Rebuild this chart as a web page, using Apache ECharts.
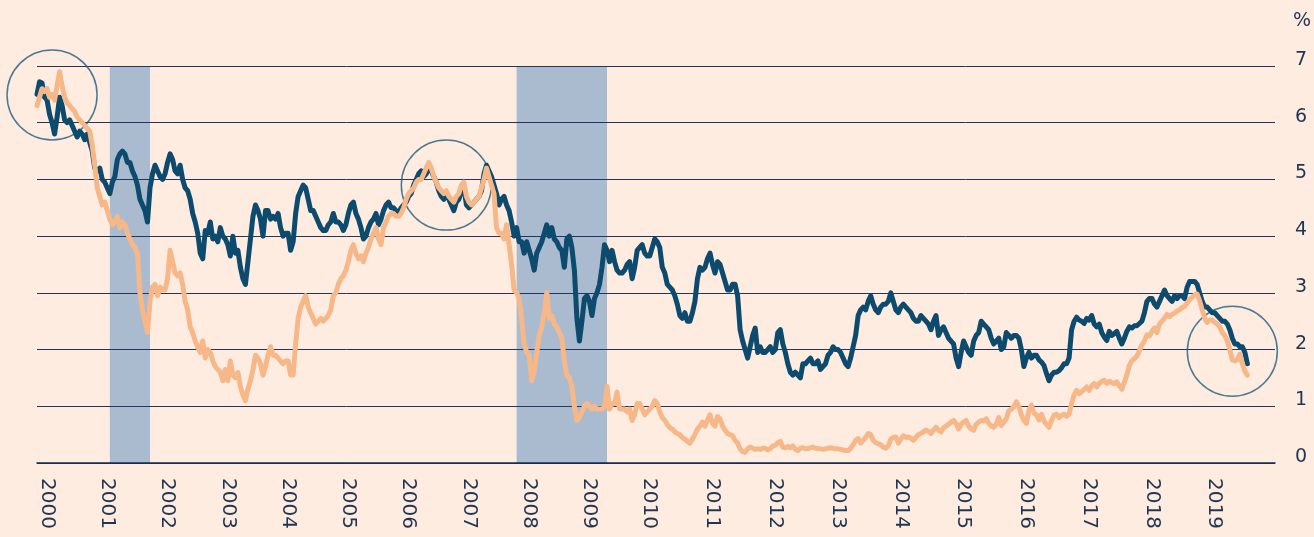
<!DOCTYPE html>
<html>
<head>
<meta charset="utf-8">
<script src="https://cdn.jsdelivr.net/npm/echarts@6.0.0/dist/echarts.min.js"></script>
<style>
html,body{margin:0;padding:0;background:#feece1;overflow:hidden;}
#chart{width:1314px;height:537px;}
</style>
</head>
<body>
<div id="chart"></div>
<script>
// ---- tick labels ----
const yearLabels = ['2000','2001','2002','2003','2004','2005','2006','2007','2008','2009',
  '2010','2011','2012','2013','2014','2015','2016','2017','2018','2019'];
// samples per calendar year along the x axis (2000 .. 2020)
const samplesPerYear = [24,24,24,24,24,24,24,24,24,24,25,25,25,25,25,25,25,25,25,25,25];
const axisSampleCount = 494;

// ---- US 10-year Treasury yield, % ----
const tenYear = [
  6.50,6.72,6.70,6.45,6.40,6.15,6.00,5.80,6.10,6.45,6.30,6.05,6.00,6.05,5.95,5.85,5.75,5.85,5.80,5.70,5.80,5.65,5.50,5.20,
  5.15,5.20,5.00,4.95,4.85,4.75,4.95,5.05,5.35,5.45,5.50,5.45,5.30,5.30,5.15,5.05,4.90,4.65,4.55,4.45,4.25,4.85,5.10,5.25,
  5.15,5.05,5.00,5.10,5.30,5.45,5.35,5.15,5.10,5.25,5.00,4.85,4.80,4.65,4.40,4.25,4.05,3.70,3.60,4.10,4.05,4.25,3.95,4.00,
  3.90,4.15,4.00,3.95,3.85,3.65,4.00,3.70,3.75,3.45,3.25,3.15,3.55,3.95,4.35,4.55,4.45,4.30,4.00,4.45,4.45,4.30,4.35,4.30,
  4.40,4.15,4.00,4.05,4.05,3.75,3.90,4.40,4.70,4.80,4.90,4.85,4.65,4.45,4.45,4.35,4.25,4.15,4.10,4.10,4.20,4.25,4.40,4.25,
  4.25,4.20,4.10,4.20,4.40,4.55,4.60,4.40,4.30,4.15,3.95,4.00,4.15,4.25,4.30,4.40,4.20,4.30,4.45,4.55,4.60,4.50,4.50,4.45,
  4.40,4.50,4.55,4.60,4.70,4.75,4.90,5.00,5.10,5.15,5.05,5.10,5.20,5.15,5.05,4.95,4.80,4.70,4.65,4.75,4.65,4.55,4.45,4.60,
  4.65,4.80,4.85,4.55,4.50,4.55,4.60,4.65,4.70,4.80,5.10,5.25,5.15,5.05,4.90,4.75,4.55,4.65,4.70,4.55,4.45,4.25,4.00,4.15,
  3.90,3.90,3.70,3.90,3.75,3.60,3.40,3.70,3.80,3.90,4.05,4.20,4.00,4.15,3.95,3.90,3.80,3.75,3.45,3.95,4.00,3.80,3.40,2.55,
  2.15,2.50,2.90,2.95,2.85,2.60,2.90,3.00,3.15,3.45,3.85,3.75,3.55,3.75,3.55,3.40,3.35,3.35,3.40,3.50,3.55,3.25,3.45,3.75,
  3.80,3.85,3.70,3.65,3.65,3.80,3.95,3.90,3.80,3.45,3.35,3.15,3.10,3.05,2.95,2.80,2.60,2.55,2.65,2.50,2.50,2.65,2.85,3.25,3.45,
  3.40,3.45,3.60,3.70,3.50,3.35,3.55,3.50,3.35,3.20,3.05,3.05,3.15,3.15,2.95,2.35,2.15,2.00,1.85,2.05,2.25,2.38,1.95,2.05,1.95,
  1.95,2.00,2.05,1.95,2.00,2.30,2.35,2.10,1.95,1.75,1.60,1.55,1.60,1.55,1.50,1.75,1.75,1.80,1.85,1.75,1.75,1.80,1.65,1.70,1.75,
  1.90,1.95,2.05,2.00,2.00,1.95,1.85,1.75,1.70,1.85,2.05,2.25,2.60,2.70,2.75,2.70,2.85,2.95,2.80,2.70,2.65,2.75,2.80,2.80,2.85,
  3.00,2.85,2.70,2.65,2.75,2.80,2.75,2.70,2.65,2.55,2.50,2.50,2.60,2.55,2.50,2.45,2.35,2.50,2.60,2.25,2.35,2.40,2.30,2.20,2.15,
  2.10,1.85,1.70,1.95,2.15,2.05,1.95,1.90,2.15,2.25,2.30,2.50,2.45,2.40,2.35,2.20,2.10,2.15,2.20,2.00,2.05,2.30,2.25,2.20,2.25,
  2.25,2.20,2.00,1.70,1.85,1.95,1.85,1.90,1.90,1.82,1.78,1.72,1.58,1.45,1.55,1.60,1.60,1.63,1.68,1.75,1.75,1.85,2.35,2.50,2.57,
  2.52,2.50,2.46,2.55,2.52,2.60,2.45,2.40,2.45,2.30,2.22,2.16,2.32,2.25,2.28,2.32,2.20,2.10,2.20,2.32,2.40,2.38,2.42,2.42,2.46,
  2.50,2.65,2.85,2.90,2.90,2.80,2.75,2.85,2.95,3.05,2.95,2.90,2.85,2.95,2.90,2.95,2.95,2.90,3.10,3.20,3.20,3.20,3.15,3.00,2.85,
  2.75,2.75,2.70,2.65,2.65,2.60,2.55,2.50,2.50,2.45,2.35,2.20,2.10,2.10,2.05,2.05,1.95,1.75
];

// ---- US 2-year Treasury yield, % ----
const twoYear = [
  6.30,6.45,6.60,6.55,6.60,6.45,6.50,6.40,6.65,6.90,6.65,6.45,6.35,6.30,6.25,6.20,6.10,6.05,6.00,5.95,5.90,5.85,5.60,5.25,
  4.85,4.70,4.55,4.60,4.45,4.30,4.20,4.25,4.35,4.15,4.25,4.20,4.05,3.95,3.85,3.80,3.70,3.00,2.70,2.50,2.30,2.85,3.10,3.15,
  2.95,3.10,3.05,3.05,3.25,3.75,3.55,3.35,3.30,3.35,3.15,2.85,2.70,2.40,2.30,2.15,2.05,1.95,2.15,1.85,2.00,1.95,1.80,1.70,
  1.65,1.60,1.45,1.65,1.45,1.80,1.55,1.50,1.60,1.35,1.20,1.10,1.30,1.45,1.65,1.90,1.85,1.75,1.55,1.70,1.90,2.05,1.90,1.90,
  1.85,1.80,1.75,1.80,1.80,1.55,1.55,2.10,2.55,2.75,2.85,2.95,2.75,2.65,2.55,2.45,2.50,2.55,2.50,2.55,2.60,2.70,2.95,3.00,
  3.15,3.25,3.30,3.40,3.55,3.75,3.85,3.70,3.60,3.65,3.55,3.70,3.80,3.95,4.05,4.15,3.95,3.85,4.15,4.25,4.35,4.40,4.40,4.35,
  4.35,4.40,4.50,4.65,4.75,4.80,4.85,4.95,5.00,5.00,5.10,5.20,5.30,5.20,5.05,4.95,4.85,4.80,4.75,4.80,4.70,4.65,4.60,4.70,
  4.75,4.90,4.95,4.70,4.60,4.55,4.60,4.65,4.70,4.85,5.00,5.20,5.05,4.90,4.75,4.15,4.05,4.05,3.95,4.20,3.85,3.50,3.05,3.00,
  2.90,2.55,2.10,1.95,1.90,1.45,1.60,1.95,2.25,2.40,2.65,3.00,2.55,2.60,2.45,2.40,2.30,2.20,1.80,1.55,1.50,1.35,1.00,0.75,
  0.80,0.90,1.00,1.05,1.00,0.95,1.00,0.95,0.95,0.95,1.00,1.35,0.95,1.05,1.05,1.25,0.95,0.95,0.95,0.90,0.95,0.75,0.85,1.05,
  1.05,0.95,0.85,0.90,0.95,1.00,1.10,1.05,0.90,0.80,0.75,0.68,0.62,0.60,0.55,0.52,0.50,0.45,0.42,0.38,0.35,0.42,0.50,0.60,0.65,
  0.72,0.65,0.75,0.85,0.70,0.65,0.82,0.78,0.65,0.58,0.52,0.50,0.48,0.40,0.35,0.25,0.20,0.19,0.25,0.28,0.26,0.24,0.25,0.24,0.26,
  0.26,0.23,0.25,0.30,0.31,0.36,0.38,0.28,0.27,0.29,0.27,0.30,0.24,0.22,0.26,0.27,0.25,0.25,0.27,0.28,0.26,0.25,0.25,0.24,0.25,
  0.26,0.27,0.26,0.25,0.25,0.24,0.23,0.22,0.22,0.26,0.32,0.40,0.43,0.35,0.40,0.45,0.52,0.50,0.40,0.36,0.34,0.32,0.28,0.26,0.30,
  0.42,0.45,0.46,0.35,0.42,0.48,0.45,0.46,0.44,0.40,0.45,0.50,0.52,0.55,0.58,0.56,0.52,0.58,0.63,0.58,0.55,0.62,0.65,0.68,0.72,
  0.75,0.70,0.60,0.68,0.72,0.75,0.65,0.60,0.58,0.68,0.72,0.75,0.74,0.78,0.70,0.65,0.63,0.68,0.80,0.66,0.72,0.78,0.92,0.95,0.99,
  1.08,1.00,0.85,0.75,0.70,0.92,1.02,0.88,0.85,0.76,0.86,0.74,0.68,0.63,0.75,0.84,0.86,0.80,0.84,0.86,0.82,0.86,1.05,1.20,1.28,
  1.22,1.26,1.30,1.34,1.28,1.36,1.40,1.34,1.40,1.44,1.46,1.40,1.44,1.42,1.40,1.43,1.36,1.30,1.42,1.55,1.72,1.80,1.84,1.88,1.98,
  2.08,2.15,2.26,2.24,2.32,2.38,2.30,2.45,2.50,2.55,2.62,2.58,2.62,2.64,2.68,2.70,2.74,2.76,2.82,2.88,2.92,2.96,2.98,2.86,2.70,
  2.55,2.48,2.52,2.52,2.48,2.45,2.40,2.30,2.25,2.15,2.00,1.82,1.80,1.82,1.92,1.75,1.62,1.55
];

// ---- US recessions (start, end) ----
const recessions = [['2001-03-16', '2001-11-15'], ['2007-12-16', '2009-06-16']];
// ---- highlighted inversions (date, yield level) ----
const circles = [['2000-04-01', 6.49], ['2006-10-13', 4.90], ['2019-06-04', 1.97]];

// build the category axis (one sample per slot)
const categories = [];
const yearStartIdx = new Set();
for (let yi = 0; yi < samplesPerYear.length && categories.length < axisSampleCount; yi++) {
  const y = 2000 + yi, n = samplesPerYear[yi];
  const t0 = Date.UTC(y, 0, 1), t1 = Date.UTC(y + 1, 0, 1);
  for (let k = 0; k < n && categories.length < axisSampleCount; k++) {
    if (k === 0 && yearLabels.indexOf(String(y)) >= 0) yearStartIdx.add(categories.length);
    categories.push(new Date(t0 + (t1 - t0) * k / n).toISOString().slice(0, 10));
  }
}
function nearestIdx(s) {
  const t = Date.parse(s); let best = 0, bd = Infinity;
  categories.forEach((c, i) => { const d = Math.abs(Date.parse(c) - t); if (d < bd) { bd = d; best = i; } });
  return best;
}

const FONT = "'DejaVu Sans', sans-serif";
const TEXT = '#1f3550';
const chart = echarts.init(document.getElementById('chart'), null, { renderer: 'canvas' });
chart.setOption({
  backgroundColor: '#feece1',
  animation: false,
  textStyle: { fontFamily: FONT },
  grid: { left: 37, right: 39, top: 66, bottom: 74, containLabel: false, outerBoundsMode: 'none' },
  xAxis: {
    type: 'category', data: categories, boundaryGap: false, z: 1,
    axisLine: { show: true, lineStyle: { color: '#1a2b48', width: 1.5 } },
    axisTick: { show: false },
    splitLine: { show: false },
    axisLabel: {
      interval: (i) => yearStartIdx.has(i),
      formatter: (v) => v.slice(0, 4),
      rotate: -90, align: 'left', verticalAlign: 'bottom', margin: 15,
      fontSize: 20, color: TEXT, fontFamily: FONT
    }
  },
  yAxis: {
    type: 'value', position: 'right', min: 0, max: 7, interval: 1, z: 1,
    axisLine: { show: false }, axisTick: { show: false },
    splitLine: { show: true, lineStyle: { color: '#22355a', width: 1 } },
    axisLabel: { margin: 20, align: 'left', verticalAlign: 'bottom', lineHeight: 12, fontSize: 19, color: TEXT, fontFamily: FONT }
  },
  graphic: [{ type: 'text', left: 1293, top: 12, style: { text: '%', fontSize: 19, fill: TEXT, fontFamily: FONT } }],
  series: [
    {
      name: 'recession', type: 'custom', z: 0, silent: true,
      encode: { x: [0, 1] },
      data: recessions.map(r => [nearestIdx(r[0]), nearestIdx(r[1])]),
      renderItem: function (params, api) {
        const a = api.coord([api.value(0), 7]);
        const b = api.coord([api.value(1), 0]);
        return { type: 'rect', shape: { x: a[0], y: a[1], width: b[0] - a[0], height: b[1] - a[1] }, style: { fill: '#aabbcf' } };
      }
    },
    {
      type: 'scatter', z: 2, silent: true,
      symbol: 'circle', symbolSize: 90,
      itemStyle: { color: 'rgba(0,0,0,0)', borderColor: '#1f5c7d', borderWidth: 1.5 },
      data: circles.map(c => [nearestIdx(c[0]), c[1]])
    },
    {
      name: '10-year', type: 'line', data: tenYear, z: 3, showSymbol: false, symbol: 'none', smooth: false,
      lineStyle: { color: '#0c4a6e', width: 5, cap: 'round', join: 'round' }
    },
    {
      name: '2-year', type: 'line', data: twoYear, z: 4, showSymbol: false, symbol: 'none', smooth: false,
      lineStyle: { color: '#f6b888', width: 5, cap: 'round', join: 'round' }
    }
  ]
});
</script>
</body>
</html>
